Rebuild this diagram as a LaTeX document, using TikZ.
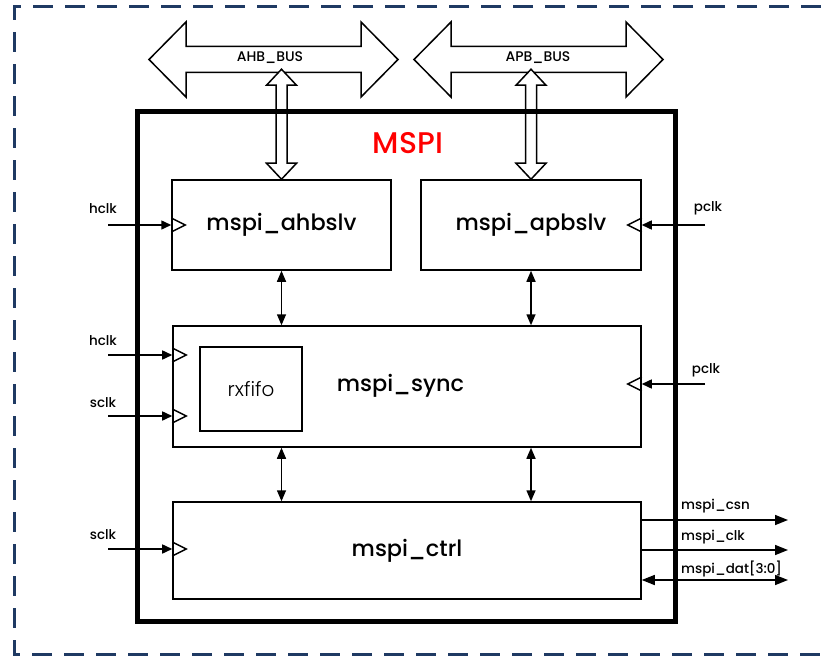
\documentclass[tikz,border=0pt]{standalone}
\usepackage{fontspec}
\setmainfont{Poppins}[UprightFont={* Medium}]
\newfontfamily\lightfont{Poppins}[UprightFont={* Light}]
\usetikzlibrary{arrows.meta,calc}

\definecolor{framecol}{HTML}{1F3A63}
\definecolor{mspired}{HTML}{FF0000}

\tikzset{
  blk/.style={draw,line width=1.5bp,inner sep=0pt,font=\fontsize{22.5}{26}\selectfont},
  sig/.style={inner sep=0pt,font=\fontsize{13.5}{16}\selectfont},
  wire/.style={line width=1.5bp},
  tip/.style={-{Triangle[length=10bp,width=9bp]}},
  bigtip/.style={-{Triangle[length=13bp,width=10bp]}},
  both/.style={{Triangle[length=11bp,width=9bp]}-{Triangle[length=11bp,width=9bp]}},
  busarr/.style={draw,line width=1.5bp,fill=white,line join=miter},
}

% fat bus arrow round a centre point
\newcommand\busoutline[1]{%
  \draw[busarr] ($(#1)+(-124.5,0)$) -- ++(37,-37.5) -- ++(0,24.5) -- ++(175,0)
    -- ++(0,-24.5) -- ++(37,37.5) -- ++(-37,37.5) -- ++(0,-24.5) -- ++(-175,0)
    -- ++(0,24.5) -- cycle;}
% hollow vertical link, from its lower tip
\newcommand\buslink[1]{%
  \draw[busarr] (#1) -- ++(-15,-16) -- ++(9.5,0) -- ++(0,-78) -- ++(-9.5,0)
    -- ++(15,-16) -- ++(15,16) -- ++(-9.5,0) -- ++(0,78) -- ++(9.5,0) -- cycle;}
% clock marks
\newcommand\clkleft[1]{\draw[wire] ($(#1)+(0,-7)$) -- ++(14,7) -- ++(-14,7);}
\newcommand\clkright[1]{\draw[wire] ($(#1)+(0,-7)$) -- ++(-14,7) -- ++(14,7);}

\begin{document}
\begin{tikzpicture}[x=1bp,y=-1bp]
  \useasboundingbox (0,0) rectangle (821,656);
  \draw[framecol,line width=3bp,dash pattern=on 20bp off 12bp]
    (821,7) -- (14,7) -- (14,654) -- (821,654);

  % blocks
  \node[blk,minimum width=219bp,minimum height=90bp] (ahbslv) at (281.5,225) {mspi\_ahbslv};
  \node[blk,minimum width=220bp,minimum height=90bp] (apbslv) at (531,225) {mspi\_apbslv};
  \node[blk,minimum width=468bp,minimum height=121bp] (sync) at (407,386.5) {};
  \node[font=\fontsize{22.5}{26}\selectfont] (synclbl) at (400.5,386) {mspi\_sync};
  \node[blk,minimum width=102bp,minimum height=84bp,font=\lightfont\fontsize{20}{24}\selectfont] (rxfifo) at (251,389) {rxfifo};
  \node[blk,minimum width=468bp,minimum height=97bp] (ctrl) at (407,550.5) {mspi\_ctrl};

  % buses
  \coordinate (ahb) at (273.5,59.5);
  \coordinate (apb) at (538.5,59.5);
  \busoutline{ahb}
  \busoutline{apb}
  \buslink{ahbslv.north}
  \buslink{apbslv.north}
  \node[font=\fontsize{14}{16}\selectfont] (ahblbl) at (270,58) {AHB\_BUS};
  \node[font=\fontsize{14}{16}\selectfont] (apblbl) at (538,58) {APB\_BUS};

  % MSPI border
  \draw[line width=5bp] (137,112) rectangle (675,621);
  \node[text=mspired,font=\fontsize{30}{34}\selectfont] (mspi) at (408,143) {MSPI};

  % inner links
  \draw[wire,both] (ahbslv.south) -- (ahbslv.south |- sync.north);
  \draw[wire,both] (apbslv.south) -- (apbslv.south |- sync.north);
  \draw[wire,both] (sync.south -| ahbslv.south) -- (ctrl.north -| ahbslv.south);
  \draw[wire,both] (sync.south -| apbslv.south) -- (ctrl.north -| apbslv.south);

  % clock inputs
  \coordinate (hclkA) at (108,225);
  \coordinate (hclkB) at (108,355);
  \coordinate (sclkA) at (108,416);
  \coordinate (sclkB) at (108,549);
  \coordinate (pclkA) at (705,225);
  \coordinate (pclkB) at (705,384);
  \draw[wire,tip] (hclkA) -- (hclkA -| ahbslv.west);
  \draw[wire,tip] (hclkB) -- (hclkB -| sync.west);
  \draw[wire,tip] (sclkA) -- (sclkA -| sync.west);
  \draw[wire,tip] (sclkB) -- (sclkB -| ctrl.west);
  \draw[wire,tip] (pclkA) -- (pclkA -| apbslv.east);
  \draw[wire,tip] (pclkB) -- (pclkB -| sync.east);
  \clkleft{hclkA -| ahbslv.west}
  \clkleft{hclkB -| sync.west}
  \clkleft{sclkA -| sync.west}
  \clkleft{sclkB -| ctrl.west}
  \clkright{pclkA -| apbslv.east}
  \clkright{pclkB -| sync.east}
  \node[sig] (hclkAl) at (103,209) {hclk};
  \node[sig] (hclkBl) at (103,341) {hclk};
  \node[sig] (sclkAl) at (103,403) {sclk};
  \node[sig] (sclkBl) at (103,535) {sclk};
  \node[sig] (pclkAl) at (708,208) {pclk};
  \node[sig] (pclkBl) at (706,370) {pclk};

  % outputs
  \coordinate (csn) at (788,520);
  \coordinate (sck) at (788,550);
  \coordinate (dat) at (788,580);
  \draw[wire,bigtip] (csn -| ctrl.east) -- (csn);
  \draw[wire,bigtip] (sck -| ctrl.east) -- (sck);
  \draw[wire,{Triangle[length=13bp,width=10bp]}-{Triangle[length=13bp,width=10bp]}] (dat -| ctrl.east) -- (dat);
  \node[sig,anchor=west] (csnl) at (681,506) {mspi\_csn};
  \node[sig,anchor=west] (sckl) at (681,537) {mspi\_clk};
  \node[sig,anchor=west] (datl) at (681,569) {mspi\_dat[3:0]};
\end{tikzpicture}
\end{document}
